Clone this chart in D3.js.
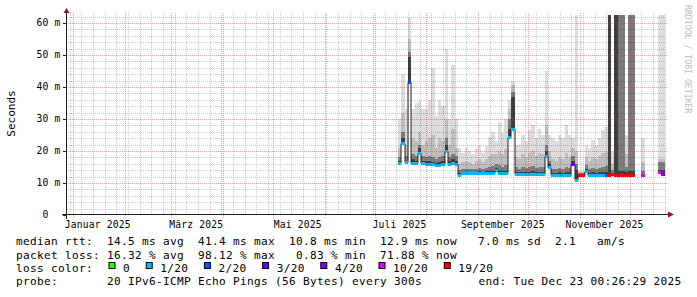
<!DOCTYPE html>
<html><head><meta charset="utf-8">
<script src="https://cdn.jsdelivr.net/npm/d3@7"></script>
<style>
html,body{margin:0;padding:0;background:#fff;}
svg{display:block;}
text{font-family:"DejaVu Sans Mono",monospace;fill:#000;white-space:pre;}
</style></head><body>
<svg id="chart" width="697" height="297"></svg>
<script>
// ---------------- data ----------------
// two-day buckets (start day, 2025)
const bucketDays = [
 "07-15","07-17","07-19","07-21","07-23","07-25","07-27","07-29","07-31",
 "08-02","08-04","08-06","08-08","08-10","08-12","08-14","08-16","08-18","08-20","08-22","08-24","08-26","08-28","08-30",
 "09-01","09-03","09-05","09-07","09-09","09-11","09-13","09-15","09-17","09-19","09-21","09-23","09-25","09-27","09-29",
 "10-01","10-03","10-05","10-07","10-09","10-11","10-13","10-15","10-17","10-19","10-21","10-23","10-25","10-27","10-29","10-31",
 "11-02","11-04","11-06","11-08","11-10","11-12","11-14","11-16","11-18","11-20","11-22","11-24","11-26","11-28","11-30",
 "12-02","12-04","12-06","12-08","12-10","12-12","12-14","12-16","12-18","12-20","12-22"];
const bucketEnd = "12-24";
// median rtt in ms (null = no data)
const medianMs = [
 16.4,22.5,16.5,41.7,16.4,16.2,19.5,16.3,16.0,
 15.8,15.8,15.6,15.6,15.8,20.0,16.0,16.2,16.0,12.5,13.0,13.0,13.0,13.0,13.0,
 13.0,13.0,13.0,13.0,13.0,14.0,13.0,13.0,13.0,24.5,27.0,12.8,12.8,12.8,12.8,
 12.8,12.8,12.8,12.8,12.8,18.5,15.0,12.5,12.5,12.5,12.5,12.5,12.5,15.8,10.8,12.5,
 12.5,13.8,12.5,12.5,12.5,12.5,12.5,12.6,12.5,12.8,12.6,12.5,12.5,12.6,12.5,
 12.5,null,null,12.5,null,null,null,null,13.3,12.8,null];
// lost pings out of 20
const lossCount = [
 1,1,1,2,1,1,1,1,1,
 1,1,1,1,1,1,1,1,1,1,1,1,1,1,1,
 1,1,1,1,1,1,1,1,1,1,1,1,1,1,1,
 1,1,1,1,1,1,1,1,1,1,1,1,1,3,1,19,
 19,1,1,1,1,1,1,2,19,19,19,19,19,19,19,
 19,null,null,10,null,null,null,null,10,4,null];
// smoke: upper ping quantile tops (ms), darkest first
const smokeMs = [
 [17,18,21,30],[24,26,32,44],[17,18.5,22,33],[49.5,51,55,61.5],[17.5,19,24,33],[17,18.5,23,35],[21,22,26,35.5],[17,18.5,22,33],[16.8,18,23,33],
 [16.8,18.5,24,36],[16.6,18,25,46],[16.4,17.5,21,31],[16.5,18,24,36],[16.8,18.5,23,34],[22,24,30,52],[16.8,18,22,30],[17.5,19,27,47],[17,18.5,21,30],
 [13.2,14,16,21],[13.5,14.5,16.5,19.5],[13.5,14.5,17,21],[13.5,14.5,16.5,20],[13.5,14.3,16,19],[13.5,14.5,17,20.5],
 [13.6,14.8,17.5,22],[13.5,14.5,16.5,19.5],[13.6,14.8,17.5,21.5],[13.6,15,18.5,24.5],[13.8,15.2,19,26],[14.8,16,19,23],[13.8,15.5,20,29],[13.6,15,19,25.5],[13.8,15.5,20.5,30],
 [27,30,33,36],[37,38.5,40.5,42],[13.5,15,18,22],[13.4,14.5,17.5,22],[13.5,15,19,25],[13.4,14.8,18,23],
 [13.5,15,19.5,26.5],[13.6,15.2,20,28],[13.4,14.8,18.5,24],[13.5,15,19.5,27],[13.5,15,19,25],[20,22,28,45],[15.8,17,20,25],
 [13.2,14.5,17.5,24],[13.2,14.3,17,23],[13.3,14.6,18,25],[13.2,14.5,17.5,24],[13.4,15,19.5,28],[13.3,14.6,18,25],
 [17,18.5,21,24],[14,16,20,62.5],[12.8,13,13.3,13.8],
 [12.8,13,13.3,13.8],[14.5,15.5,18,22],[13.2,14.3,17,21],[13.3,14.6,18,23.5],[13.2,14.5,17.5,22],[13.3,14.8,18.5,24],[13.4,15,19.5,26.5],[13.5,15.2,20,27.5],
 [62.5,62.5,62.5,62.5],[13.2,14,16,20],[62.5,62.5,62.5,62.5],[13.6,62.5,62.5,62.5],[13.6,62.5,62.5,62.5],[13.5,15,19,25],[13.6,62.5,62.5,62.5],
 [13.6,62.5,62.5,62.5],null,null,[12.9,13.6,16.5,24],null,null,null,null,[14,16.5,17.5,62.5],[14,16.5,17.5,62.5],null];

const yTickValues = [0,10,20,30,40,50,60];
const yTickLabels = ["0  ","10 m","20 m","30 m","40 m","50 m","60 m"];
const xTickLabels = ["Januar 2025","März 2025","Mai 2025","Juli 2025","September 2025","November 2025"];

const lossLevels = [0,1,2,3,4,10,19];
const lossLabels = ["0","1/20","2/20","3/20","4/20","10/20","19/20"];
const lossColors = ["#26ff00","#00b8ff","#0059ff","#5e00ff","#7e00ff","#dd00ff","#ff0000"];

const legendLines = [
 "median rtt:  14.5 ms avg  41.4 ms max  10.8 ms min  12.9 ms now   7.0 ms sd  2.1   am/s",
 "packet loss: 16.32 % avg  98.12 % max   0.83 % min  71.88 % now",
 "loss color:",
 "probe:       20 IPv6-ICMP Echo Pings (56 Bytes) every 300s"
];
const legendEnd = "end: Tue Dec 23 00:26:29 2025";
const yAxisTitle = "Seconds";
const watermark = "RRDTOOL / TOBI OETIKER";

// ---------------- layout ----------------
const L = 67, R = 667, T = 13, B = 215;
const svg = d3.select("#chart");
svg.append("rect").attr("width",697).attr("height",297).attr("fill","#fff");

const parse = d3.utcParse("%Y-%m-%d");
const tStart = bucketDays.map(s => parse("2025-" + s));
const tEnd = tStart.slice(1).concat([parse("2025-" + bucketEnd)]);

const x = d3.scaleUtc()
  .domain([new Date(Date.UTC(2024,11,28,12)), new Date(Date.UTC(2025,11,23,12))])
  .range([L, R]);
const y = d3.scaleLinear().domain([0, 63.125]).range([B, T]);
const shade = d3.scaleLinear().domain([0,1,2,3]).range(["#404040","#7c7c7c","#bebebe","#dddddd"]);
const lossColor = v => lossColors[Math.min(d3.bisectLeft(lossLevels, v), lossColors.length-1)];

svg.append("defs").append("clipPath").attr("id","plot")
  .append("rect").attr("x",L).attr("y",T).attr("width",R-L).attr("height",B-T);

const plot = svg.append("g").attr("clip-path","url(#plot)");

// smoke
const gSmoke = plot.append("g").attr("shape-rendering","crispEdges");
smokeMs.forEach((levels, i) => {
  if (!levels || medianMs[i] == null) return;
  const x0 = Math.round(x(tStart[i])), x1 = Math.round(x(tEnd[i]));
  let prev = medianMs[i];
  levels.forEach((top, k) => {
    if (top > prev) {
      gSmoke.append("rect").attr("x", x0).attr("width", x1 - x0)
        .attr("y", Math.round(y(top))).attr("height", Math.round(y(prev)) - Math.round(y(top)))
        .attr("fill", shade(k));
      prev = top;
    }
  });
});

// grid
const [d0, d1] = x.domain();
const gGrid = svg.append("g").attr("shape-rendering","crispEdges").attr("stroke-dasharray","1,1");
const minorCol = "rgba(0,0,0,0.2)", majorCol = "rgba(210,40,40,0.42)";
const months = d3.utcMonth.range(d0, d1);
const monthSet = new Set(months.map(d => +d));
d3.utcMonday.range(d0, d1).filter(d => !monthSet.has(+d)).forEach(d => {
  const px = Math.round(x(d)) + 0.5;
  gGrid.append("line").attr("x1",px).attr("x2",px).attr("y1",T).attr("y2",B).attr("stroke",minorCol);
});
d3.range(2, 63, 2).filter(v => v % 10 !== 0).forEach(v => {
  const py = Math.round(y(v)) + 0.5;
  gGrid.append("line").attr("x1",L).attr("x2",R).attr("y1",py).attr("y2",py).attr("stroke",minorCol);
});
months.forEach(d => {
  const px = Math.round(x(d)) + 0.5;
  gGrid.append("line").attr("x1",px).attr("x2",px).attr("y1",T).attr("y2",B+3).attr("stroke",majorCol);
});
yTickValues.filter(v => v > 0).forEach(v => {
  const py = Math.round(y(v)) + 0.5;
  gGrid.append("line").attr("x1",L-3).attr("x2",R).attr("y1",py).attr("y2",py).attr("stroke",majorCol);
});

// median line (black steps) + loss bands
const pts = [];
medianMs.forEach((m, i) => {
  if (m == null) { pts.push(null); return; }
  pts.push([Math.round(x(tStart[i])), y(m)]);
  pts.push([Math.round(x(tEnd[i])), y(m)]);
});
const line = d3.line().defined(d => d != null).x(d => d[0]).y(d => Math.round(d[1]) + 0.5);
plot.append("path").attr("d", line(pts)).attr("fill","none").attr("stroke","#202020").attr("stroke-width",1);
const gLoss = plot.append("g").attr("shape-rendering","crispEdges");
medianMs.forEach((m, i) => {
  if (m == null) return;
  const x0 = Math.round(x(tStart[i])), x1 = Math.round(x(tEnd[i]));
  gLoss.append("rect").attr("x", x0).attr("width", x1 - x0)
    .attr("y", Math.round(y(m)) - 1).attr("height", 3).attr("fill", lossColor(lossCount[i]));
});

// axes
const axCol = "#222", arrowCol = "#9a1515";
svg.append("line").attr("x1",L-0.5).attr("x2",L-0.5).attr("y1",T-1).attr("y2",B+4).attr("stroke",axCol).attr("shape-rendering","crispEdges");
svg.append("line").attr("x1",L-5).attr("x2",R+2).attr("y1",B-0.5).attr("y2",B-0.5).attr("stroke",axCol).attr("shape-rendering","crispEdges");
svg.append("path").attr("d",`M${L-3.5},${T}L${L+2.5},${T}L${L-0.5},${T-5}Z`).attr("fill",arrowCol);
svg.append("path").attr("d",`M${R+1},${B-3.5}L${R+1},${B+2.5}L${R+7},${B-0.5}Z`).attr("fill",arrowCol);
yTickValues.forEach(v => {
  const py = Math.round(y(v)) + 0.5;
  svg.append("line").attr("x1",L-4).attr("x2",L-1).attr("y1",py).attr("y2",py).attr("stroke",axCol).attr("shape-rendering","crispEdges");
});

// axis labels
const axisFont = {size:"9.7px", ls:"0.16px"};
yTickValues.forEach((v, i) => {
  svg.append("text").attr("x",60.5).attr("y",y(v)).attr("dy","0.36em").attr("text-anchor","end")
    .attr("font-size",axisFont.size).attr("letter-spacing",axisFont.ls).text(yTickLabels[i]);
});
d3.utcMonth.every(2).range(d0, d1).forEach((d, i) => {
  svg.append("text").attr("x", x(d3.utcDay.offset(d, 15))).attr("y",228).attr("text-anchor","middle")
    .attr("font-size",axisFont.size).attr("letter-spacing",axisFont.ls).text(xTickLabels[i]);
});
svg.append("text").attr("transform","translate(15,113.5) rotate(-90)").attr("text-anchor","middle")
  .attr("font-size","11px").text(yAxisTitle);
svg.append("text").attr("transform","translate(685,5) rotate(90)").attr("text-anchor","start")
  .attr("font-size","8.2px").style("fill","#bdbdbd").text(watermark);

// legend (monospaced, 7px per character)
const lf = "11.1px", lls = "0.32px", lx = 16;
const legendY = [245.3,258.7,272,285.3];
legendLines.forEach((s, r) => {
  svg.append("text").attr("x",lx).attr("y",legendY[r]).attr("font-size",lf).attr("letter-spacing",lls).text(s);
});
svg.append("text").attr("x",681.5).attr("y",legendY[3]).attr("text-anchor","end")
  .attr("font-size",lf).attr("letter-spacing",lls).text(legendEnd);
let bx = 108.5;
lossLabels.forEach((lab, i) => {
  svg.append("rect").attr("x",bx+0.5).attr("y",262.5).attr("width",6).attr("height",6)
    .attr("fill",lossColors[i]).attr("stroke","#000").attr("stroke-width",1);
  const t = svg.append("text").attr("x",bx+14.6).attr("y",legendY[2]).attr("font-size",lf).attr("letter-spacing",lls).text(lab);
  bx = bx + 14.6 + t.node().getComputedTextLength() + 15.6;
});
</script>
</body></html>
